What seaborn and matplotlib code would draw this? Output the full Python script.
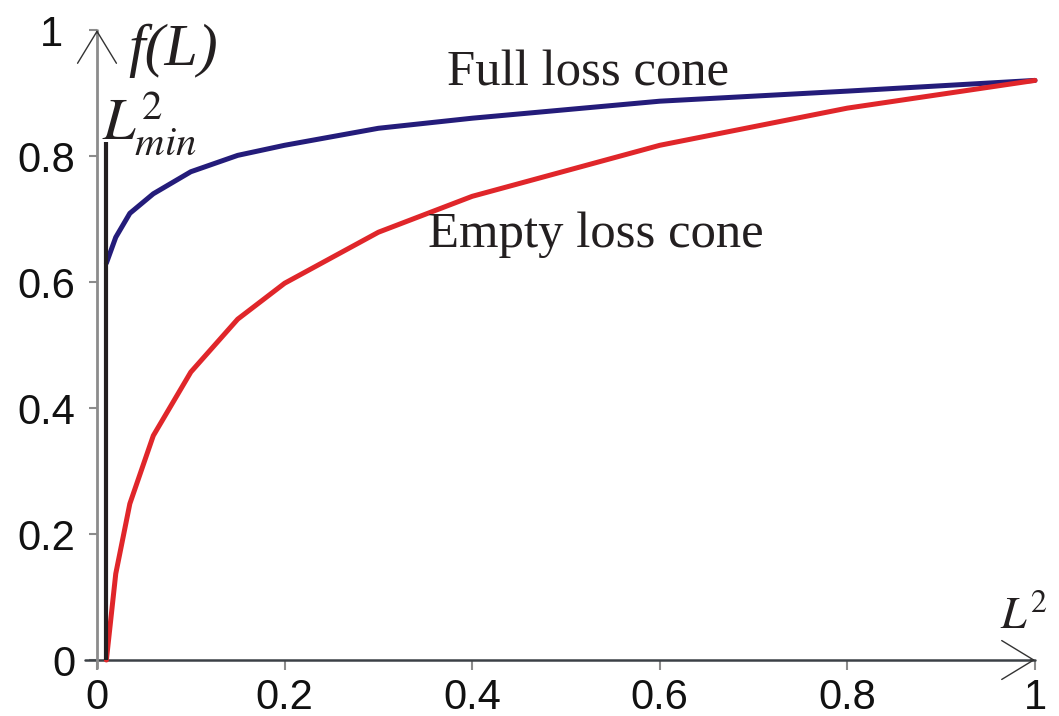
import pandas as pd
import seaborn as sns
import matplotlib.pyplot as plt
from matplotlib.transforms import ScaledTranslation

# valores
l2 = [0.01, 0.02, 0.035, 0.06, 0.1, 0.15, 0.2, 0.3, 0.4, 0.6, 0.8, 1.0]
full_cone = [0.63, 0.671, 0.709, 0.74, 0.775, 0.801, 0.817, 0.844, 0.86, 0.887, 0.903, 0.92]
empty_cone = [0.0, 0.137, 0.248, 0.356, 0.457, 0.541, 0.598, 0.679, 0.736, 0.817, 0.876, 0.92]
l2_min = 0.01
l2_min_top = 0.822
ticks = [0, 0.2, 0.4, 0.6, 0.8, 1]
tick_labels = ['0', '0.2', '0.4', '0.6', '0.8', '1']

df = pd.DataFrame({'L2': l2 + l2,
                   'f': full_cone + empty_cone,
                   'cono': ['Full loss cone'] * len(l2) + ['Empty loss cone'] * len(l2)})

sns.set_style("white")
plt.rcParams['font.family'] = ['Liberation Sans', 'DejaVu Sans']
plt.rcParams['mathtext.fontset'] = 'stix'

fig = plt.figure(figsize=(10.59, 7.16), dpi=100)
ax = fig.add_axes([97 / 1059, 56 / 716, 938 / 1059, 630 / 716])

sns.lineplot(data=df, x='L2', y='f', hue='cono',
             palette={'Full loss cone': '#241c7a', 'Empty loss cone': '#e0262a'},
             linewidth=3.6, legend=False, ax=ax, clip_on=False)

# linea L^2_min
ax.vlines(l2_min, 0, l2_min_top, color='#231f20', linewidth=3)

ax.set_xlim(0, 1)
ax.set_ylim(0, 1)
ax.set_xlabel('')
ax.set_ylabel('')
for s in ax.spines.values():
    s.set_visible(False)

# ejes con flecha
ax.plot([-0.013, 1], [0, 0], transform=ax.transAxes, color='#3c4146', lw=1.8, clip_on=False, zorder=1)
ax.plot([0, 0], [-0.013, 1], transform=ax.transAxes, color='#8c8c8c', lw=2, clip_on=False, zorder=1)
ax.annotate('', xy=(1, 0), xytext=(0.995, 0), xycoords='axes fraction',
            arrowprops=dict(arrowstyle='->,head_length=23,head_width=14', mutation_scale=1,
                            color='#333333', lw=1.0, shrinkA=0, shrinkB=0))
ax.annotate('', xy=(0, 1), xytext=(0, 0.995), xycoords='axes fraction',
            arrowprops=dict(arrowstyle='->,head_length=23,head_width=14', mutation_scale=1,
                            color='#333333', lw=1.0, shrinkA=0, shrinkB=0))

ax.set_xticks(ticks)
ax.set_xticklabels(tick_labels, fontsize=30)
ax.set_yticks(ticks)
ax.set_yticklabels(tick_labels, fontsize=30)
ax.tick_params(axis='x', direction='out', length=7, width=1.5, color='#8c8c8c', pad=6, labelcolor='#111111')
ax.tick_params(axis='y', direction='out', length=5.5, width=1.5, color='#8c8c8c', pad=10, labelcolor='#111111')
ax.tick_params(left=True, bottom=True)

# el "1" del eje y esta algo desplazado a la izquierda
lab1 = ax.get_yticklabels()[-1]
lab1.set_transform(lab1.get_transform() + ScaledTranslation(-0.12, 0, fig.dpi_scale_trans))

serif = ['Liberation Serif', 'DejaVu Serif']
ax.text(0.373, 0.912, 'Full loss cone', fontsize=36.5, family=serif, color='#231f20', va='baseline')
ax.text(0.353, 0.655, 'Empty loss cone', fontsize=36.5, family=serif, color='#231f20', va='baseline')
ax.text(0.033, 0.944, 'f(L)', fontsize=43, family=serif, style='italic', color='#231f20', va='baseline')
ax.text(0.005, 0.826, r'$L^2_{min}$', fontsize=42, color='#231f20', va='baseline')
ax.text(0.963, 0.050, r'$L^2$', fontsize=33, color='#231f20', va='baseline')

plt.savefig('out.png', dpi=100)
